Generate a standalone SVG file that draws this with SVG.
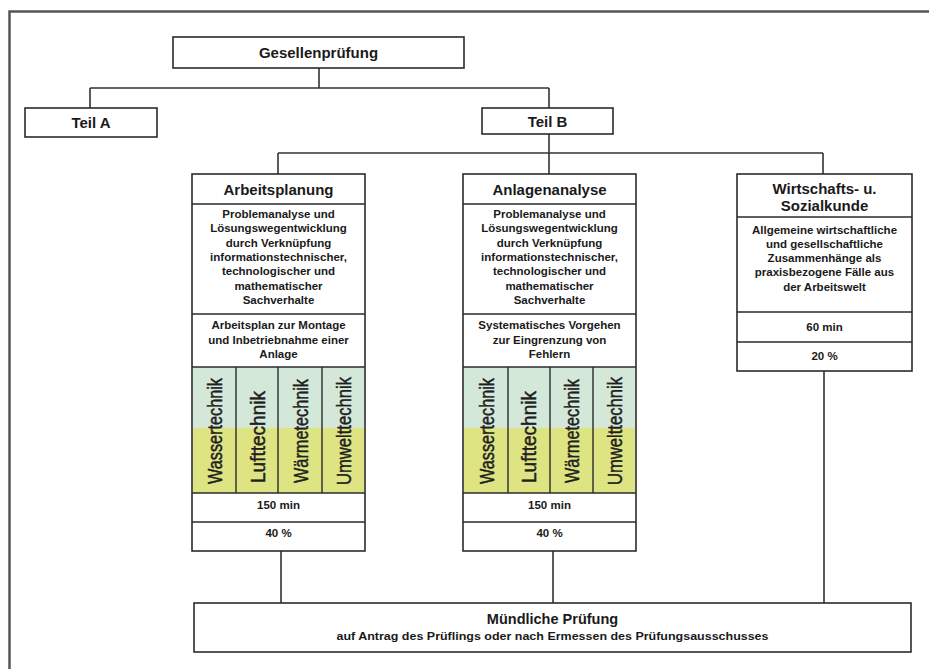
<svg xmlns="http://www.w3.org/2000/svg" width="929" height="669" viewBox="0 0 929 669">
<style>
  .frame { stroke: #555; stroke-width: 2.5; fill: none; }
  .box { fill: #fff; stroke: #2b2b2b; stroke-width: 1.6; }
  .sep { stroke: #2b2b2b; stroke-width: 1.4; fill: none; }
  .con { stroke: #333; stroke-width: 1.6; fill: none; }
  text { font-family: "Liberation Sans", Arial, sans-serif; fill: #1a1a1a; text-anchor: middle; font-weight: bold; }
  .h { font-size: 15px; }
  .d { font-size: 11.5px; }
  .v { font-size: 21px; font-weight: normal; text-anchor: start; fill: #1f1f1f; stroke: #1f1f1f; stroke-width: 0.5; }
  .top { fill: #d4e8da; }
  .bot { fill: #dfe483; }
</style>
<rect x="0" y="0" width="929" height="669" fill="#fff"/>
<path class="frame" d="M9.5 669 V11.5 H929"/>

<g id="connectors">
  <path class="con" d="M319 68 V88 M90 88 H549 M90 88 V108 M549 88 V108"/>
  <path class="con" d="M549 134 V174 M278 153 H823 M278 153 V174 M823 153 V174"/>
  <path class="con" d="M281 551 V603 M553 551 V603 M824 371 V603"/>
</g>

<g id="gesellenpruefung">
  <rect class="box" x="173" y="37" width="291" height="31"/>
  <text class="h" x="318.5" y="58">Gesellenprüfung</text>
</g>

<g id="teil-a">
  <rect class="box" x="25" y="108" width="132" height="29"/>
  <text class="h" x="91" y="128">Teil A</text>
</g>

<g id="teil-b">
  <rect class="box" x="482" y="108" width="131" height="26"/>
  <text class="h" x="547.5" y="126.5">Teil B</text>
</g>

<g id="arbeitsplanung">
  <rect class="box" x="192" y="174" width="173" height="377"/>
  <rect class="top" x="193" y="367" width="171" height="61"/>
  <rect class="bot" x="193" y="428" width="171" height="65"/>
  <path class="sep" d="M192 204 H365 M192 314 H365 M192 367 H365 M192 493 H365 M192 522 H365 M236 367 V493 M278 367 V493 M322 367 V493"/>
  <text class="h" x="278.5" y="194.5">Arbeitsplanung</text>
  <text class="d" x="278.5" y="218">Problemanalyse und</text>
  <text class="d" x="278.5" y="232.3">Lösungswegentwicklung</text>
  <text class="d" x="278.5" y="246.6">durch Verknüpfung</text>
  <text class="d" x="278.5" y="260.9">informationstechnischer,</text>
  <text class="d" x="278.5" y="275.2">technologischer und</text>
  <text class="d" x="278.5" y="289.5">mathematischer</text>
  <text class="d" x="278.5" y="303.8">Sachverhalte</text>
  <text class="d" x="278.5" y="329">Arbeitsplan zur Montage</text>
  <text class="d" x="278.5" y="343.5">und Inbetriebnahme einer</text>
  <text class="d" x="278.5" y="358">Anlage</text>
  <text class="v" transform="translate(221.5 484) rotate(-90)" textLength="106" lengthAdjust="spacingAndGlyphs">Wassertechnik</text>
  <text class="v" transform="translate(264.5 483) rotate(-90)" textLength="92" lengthAdjust="spacingAndGlyphs">Lufttechnik</text>
  <text class="v" transform="translate(307.5 483) rotate(-90)" textLength="104" lengthAdjust="spacingAndGlyphs">Wärmetechnik</text>
  <text class="v" transform="translate(351 485) rotate(-90)" textLength="108" lengthAdjust="spacingAndGlyphs">Umwelttechnik</text>
  <text class="d" x="278.5" y="509">150 min</text>
  <text class="d" x="278.5" y="537">40 %</text>
</g>

<g id="anlagenanalyse">
  <rect class="box" x="463" y="174" width="173" height="377"/>
  <rect class="top" x="464" y="367" width="171" height="61"/>
  <rect class="bot" x="464" y="428" width="171" height="65"/>
  <path class="sep" d="M463 204 H636 M463 314 H636 M463 367 H636 M463 493 H636 M463 522 H636 M508 367 V493 M550 367 V493 M593 367 V493"/>
  <text class="h" x="549.5" y="194.5">Anlagenanalyse</text>
  <text class="d" x="549.5" y="218">Problemanalyse und</text>
  <text class="d" x="549.5" y="232.3">Lösungswegentwicklung</text>
  <text class="d" x="549.5" y="246.6">durch Verknüpfung</text>
  <text class="d" x="549.5" y="260.9">informationstechnischer,</text>
  <text class="d" x="549.5" y="275.2">technologischer und</text>
  <text class="d" x="549.5" y="289.5">mathematischer</text>
  <text class="d" x="549.5" y="303.8">Sachverhalte</text>
  <text class="d" x="549.5" y="329">Systematisches Vorgehen</text>
  <text class="d" x="549.5" y="343.5">zur Eingrenzung von</text>
  <text class="d" x="549.5" y="358">Fehlern</text>
  <text class="v" transform="translate(493.5 484) rotate(-90)" textLength="106" lengthAdjust="spacingAndGlyphs">Wassertechnik</text>
  <text class="v" transform="translate(536 483) rotate(-90)" textLength="92" lengthAdjust="spacingAndGlyphs">Lufttechnik</text>
  <text class="v" transform="translate(578.5 483) rotate(-90)" textLength="104" lengthAdjust="spacingAndGlyphs">Wärmetechnik</text>
  <text class="v" transform="translate(621.5 485) rotate(-90)" textLength="108" lengthAdjust="spacingAndGlyphs">Umwelttechnik</text>
  <text class="d" x="549.5" y="509">150 min</text>
  <text class="d" x="549.5" y="537">40 %</text>
</g>

<g id="wirtschafts-sozialkunde">
  <rect class="box" x="737" y="174" width="175" height="197"/>
  <path class="sep" d="M737 217 H912 M737 312 H912 M737 342 H912"/>
  <text class="h" x="824.5" y="193.5">Wirtschafts- u.</text>
  <text class="h" x="824.5" y="210.5">Sozialkunde</text>
  <text class="d" x="824.5" y="233.5">Allgemeine wirtschaftliche</text>
  <text class="d" x="824.5" y="247.8">und gesellschaftliche</text>
  <text class="d" x="824.5" y="262">Zusammenhänge als</text>
  <text class="d" x="824.5" y="276.3">praxisbezogene Fälle aus</text>
  <text class="d" x="824.5" y="290.5">der Arbeitswelt</text>
  <text class="d" x="824.5" y="331">60 min</text>
  <text class="d" x="824.5" y="360">20 %</text>
</g>

<g id="muendliche-pruefung">
  <rect class="box" x="194" y="603" width="717" height="49"/>
  <text x="552.5" y="624" style="font-size:14.5px">Mündliche Prüfung</text>
  <text x="552.5" y="640" style="font-size:11.5px" textLength="432" lengthAdjust="spacingAndGlyphs">auf Antrag des Prüflings oder nach Ermessen des Prüfungsausschusses</text>
</g>
</svg>
